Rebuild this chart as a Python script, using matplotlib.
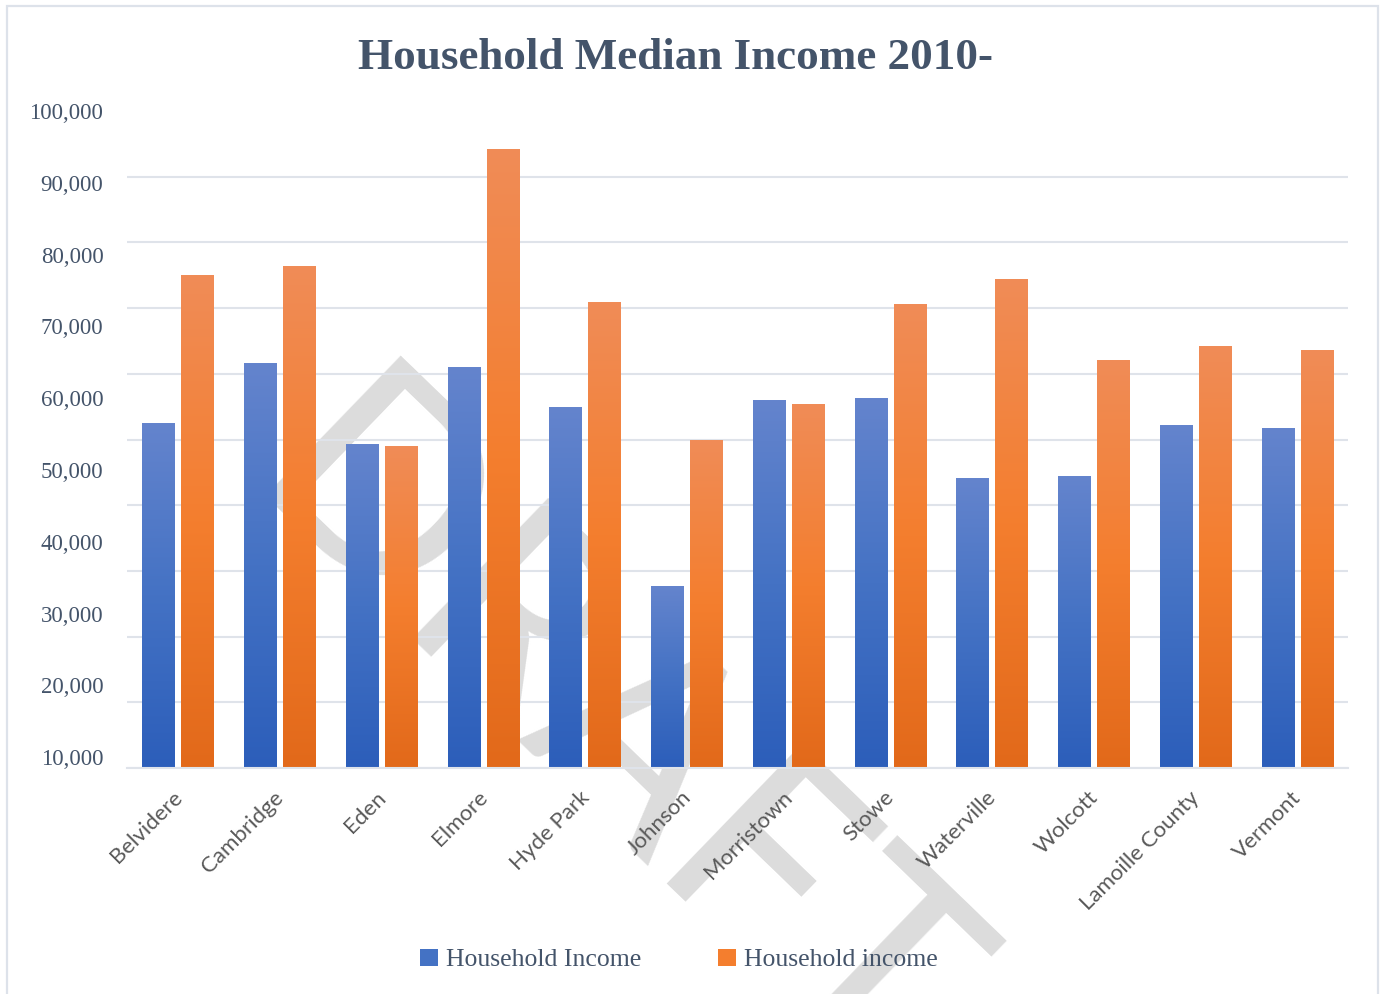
"""
Household median income by town, grouped bars with vertical gradient fill.
"""

import numpy as np
import matplotlib
matplotlib.use("Agg")
import matplotlib.pyplot as plt
from matplotlib.colors import LinearSegmentedColormap
from matplotlib.patches import Patch, Rectangle
from matplotlib.transforms import ScaledTranslation

TOWNS = ["Belvidere", "Cambridge", "Eden", "Elmore", "Hyde Park", "Johnson",
         "Morristown", "Stowe", "Waterville", "Wolcott", "Lamoille County",
         "Vermont"]
INCOME_A = [52400, 61600, 49200, 60900, 54800, 27700,
            55900, 56200, 44000, 44300, 52200, 51700]
INCOME_B = [75000, 76300, 49000, 94200, 70800, 49900,
            55300, 70500, 74300, 62000, 64100, 63500]
SERIES = ["Household Income", "Household income"]
Y_LABELS = ["10,000", "20,000", "30,000", "40,000", "50,000",
            "60,000", "70,000", "80,000", "90,000", "100,000"]

SLATE = "#44546a"
GREY = "#595959"
GRID = "#dfe3ea"
BLUE = ["#2c5eba", "#4472c4", "#6484cd"]     # bottom -> top
ORANGE = ["#e2691a", "#f47e2e", "#f08c57"]
SERIF = ["Liberation Serif", "DejaVu Serif"]
SANS = ["Lato", "DejaVu Sans"]


def _gradient_bars(ax, xs, heights, width, colors):
    cmap = LinearSegmentedColormap.from_list("g", colors)
    grad = np.linspace(0, 1, 256).reshape(-1, 1)
    bars = ax.bar(xs, heights, width, color="none", edgecolor="none")
    for b in bars:
        x0 = b.get_x()
        ax.imshow(grad, cmap=cmap, origin="lower", aspect="auto",
                  extent=(x0, x0 + b.get_width(), 0, b.get_height()),
                  zorder=2, interpolation="bilinear")


fig = plt.figure(figsize=(13.85, 9.94), dpi=100, facecolor="white")

# page border
fig.add_artist(Rectangle((7 / 1385, -0.01), 1371 / 1385, 1.0 - 6 / 994 + 0.01,
                         transform=fig.transFigure, facecolor="none",
                         edgecolor="#dde2ea", linewidth=1.6, zorder=-2))

# DRAFT watermark, sits behind the plot
fig.text(607 / 1385, 1 - 742 / 994, "DRAFT", rotation=-44,
         ha="center", va="center", family=SANS, fontsize=195,
         color="#dcdcdc", zorder=-1, rotation_mode="anchor")

ax = fig.add_axes([127 / 1385, 1 - 768 / 994, 1221 / 1385, 657 / 994])
ax.patch.set_alpha(0)

x = np.arange(len(TOWNS))
w = 0.315
gap = 0.07
_gradient_bars(ax, x - (w + gap) / 2, INCOME_A, w, BLUE)
_gradient_bars(ax, x + (w + gap) / 2, INCOME_B, w, ORANGE)

ax.set_xlim(-0.5, len(TOWNS) - 0.5)
ax.set_ylim(0, 100000)

# gridlines every 10k; labels are spaced a little wider than the grid,
# as in the source image
ax.set_yticks(np.arange(0, 100001, 10000), minor=True)
ax.grid(True, which="minor", axis="y", color=GRID, linewidth=1.5, zorder=0)
step = 10930
lab_pos = [100000 - (9 - i) * step for i in range(len(Y_LABELS))]
ax.set_yticks(lab_pos, Y_LABELS)
ax.tick_params(axis="y", which="both", length=0, pad=17, labelsize=16.5,
               labelcolor=SLATE)
for t in ax.get_yticklabels():
    t.set_family(SERIF)

ax.set_xticks(x, TOWNS, rotation=45, ha="right", rotation_mode="anchor")
ax.tick_params(axis="x", length=0, pad=14, labelsize=16, labelcolor=GREY)
offset = ScaledTranslation(-6 / 100, 0, fig.dpi_scale_trans)
for t in ax.get_xticklabels():
    t.set_family(SANS)
    t.set_transform(t.get_transform() + offset)

for side in ("top", "left", "right"):
    ax.spines[side].set_visible(False)
ax.spines["bottom"].set_color(GRID)
ax.spines["bottom"].set_linewidth(1.5)

fig.text(676 / 1385, 1 - 58 / 994, "Household Median Income 2010-",
         ha="center", va="center", family=SERIF, fontweight="bold",
         fontsize=32.5, color=SLATE)

handles = [Patch(facecolor=BLUE[1]), Patch(facecolor=ORANGE[1])]
leg = fig.legend(handles, SERIES, loc="center", ncol=2,
                 bbox_to_anchor=(679 / 1385, 1 - 960 / 994), frameon=False,
                 handlelength=0.7, handleheight=0.7, handletextpad=0.3,
                 columnspacing=3.0, prop={"family": SERIF, "size": 18.5})
for t in leg.get_texts():
    t.set_color(SLATE)

fig.savefig("out.png", dpi=100, facecolor="white")
